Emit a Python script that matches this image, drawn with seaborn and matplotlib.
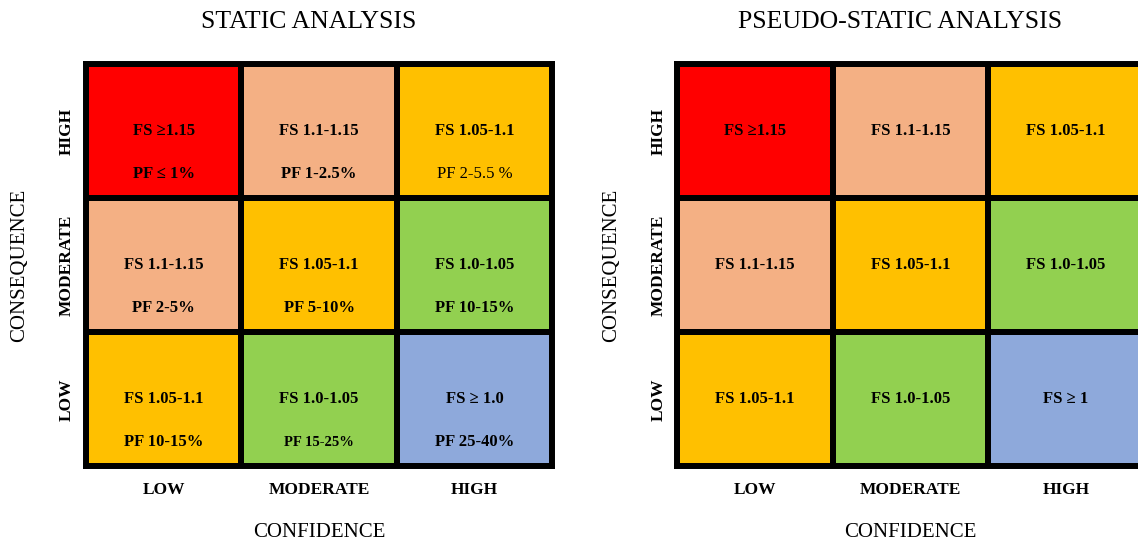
#!/usr/bin/env python3
#
# Risk matrices: static and pseudo-static slope analysis
#
import numpy as np
import matplotlib
matplotlib.use('Agg')
import matplotlib.pyplot as plt
from matplotlib.colors import ListedColormap
import seaborn as sns

# Axis categories
confidence = ['LOW', 'MODERATE', 'HIGH']
consequence = ['HIGH', 'MODERATE', 'LOW']

# Risk class of every cell (rows: consequence, cols: confidence)
risk_class = [
    [0, 1, 2],
    [1, 2, 3],
    [2, 3, 4],
]

# Static analysis cell text
static_fs = [
    ['FS \u22651.15', 'FS 1.1-1.15', 'FS 1.05-1.1'],
    ['FS 1.1-1.15', 'FS 1.05-1.1', 'FS 1.0-1.05'],
    ['FS 1.05-1.1', 'FS 1.0-1.05', 'FS \u2265 1.0'],
]
static_pf = [
    ['PF \u2264 1%', 'PF 1-2.5%', 'PF 2-5.5 %'],
    ['PF 2-5%', 'PF 5-10%', 'PF 10-15%'],
    ['PF 10-15%', 'PF 15-25%', 'PF 25-40%'],
]

# Pseudo-static analysis cell text
pseudo_fs = [
    ['FS \u22651.15', 'FS 1.1-1.15', 'FS 1.05-1.1'],
    ['FS 1.1-1.15', 'FS 1.05-1.1', 'FS 1.0-1.05'],
    ['FS 1.05-1.1', 'FS 1.0-1.05', 'FS \u2265 1'],
]

# Class colours: red, salmon, amber, green, blue
colors = ['#FF0000', '#F4B084', '#FFC000', '#92D050', '#8EA9DB']
cmap = ListedColormap(colors)

sns.set_style('white')
plt.rcParams['font.family'] = ['Liberation Serif', 'DejaVu Serif']
for key in ['text.color', 'axes.labelcolor', 'xtick.color', 'ytick.color']:
    plt.rcParams[key] = 'black'

fig = plt.figure(figsize=(11.38, 5.43), dpi=100)

ax_l = fig.add_axes([0.0756, 0.1409, 0.4095, 0.7413])
ax_r = fig.add_axes([0.5953, 0.1409, 0.4095, 0.7413])

lw = 4.3


def draw_matrix(ax, title, fs, pf=None):
    sns.heatmap(
        np.array(risk_class),
        ax=ax,
        cmap=cmap,
        vmin=-0.5,
        vmax=len(colors) - 0.5,
        cbar=False,
        linewidths=lw,
        linecolor='black',
        annot=np.array(fs),
        fmt='',
        annot_kws={'fontsize': 12, 'fontweight': 'bold', 'color': 'black'},
        xticklabels=confidence,
        yticklabels=consequence,
    )

    # Second line: probability of failure
    if pf is not None:
        for i, row in enumerate(pf):
            for j, s in enumerate(row):
                weight = 'normal' if s == 'PF 2-5.5 %' else 'bold'
                size = 10.5 if s == 'PF 15-25%' else 12
                ax.text(j + 0.5, i + 0.82, s, ha='center', va='center',
                        fontsize=size, fontweight=weight, color='black')

    for s in ax.spines.values():
        s.set_visible(True)
        s.set_linewidth(lw)
        s.set_color('black')

    ax.tick_params(axis='x', length=0, pad=11)
    ax.tick_params(axis='y', length=0, pad=8)
    ax.set_xticklabels(confidence, rotation=0, fontsize=12.5,
                       fontweight='bold')
    ax.set_yticklabels(consequence, rotation=90, va='center', fontsize=12.5,
                       fontweight='bold')

    ax.set_xlabel('CONFIDENCE', fontsize=15, va='center')
    ax.set_ylabel('CONSEQUENCE', fontsize=15, va='center')
    ax.xaxis.set_label_coords(0.5, -0.165)
    ax.yaxis.set_label_coords(-0.142, 0.5)

    ax.text(0.477, 1.105, title, transform=ax.transAxes, ha='center',
            va='center', fontsize=18.5)


draw_matrix(ax_l, 'STATIC ANALYSIS', static_fs, static_pf)
draw_matrix(ax_r, 'PSEUDO-STATIC ANALYSIS', pseudo_fs)

plt.savefig('out.png', dpi=100)
